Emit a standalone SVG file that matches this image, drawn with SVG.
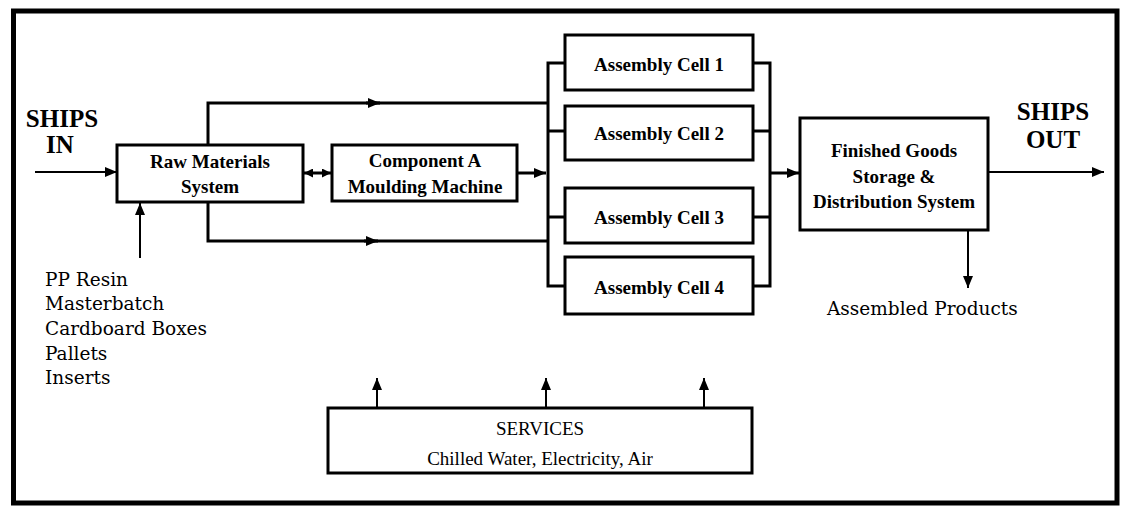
<svg xmlns="http://www.w3.org/2000/svg" width="1122" height="507" viewBox="0 0 1122 507">
<style>
.box{fill:#fff;stroke:#000;stroke-width:3}
.b{font-family:"Liberation Serif","Times New Roman",serif;font-weight:bold;font-size:19px;text-anchor:middle;fill:#000}
.h{font-family:"Liberation Serif","Times New Roman",serif;font-weight:bold;font-size:25px;text-anchor:middle;fill:#000}
.r{font-family:"Liberation Serif","Times New Roman",serif;font-size:19px;text-anchor:middle;fill:#000}
.l{font-family:"DejaVu Serif",serif;font-size:18.5px;fill:#000}
.thick{fill:none;stroke:#000;stroke-width:3}
.thin{fill:none;stroke:#000;stroke-width:2}
</style>
<defs>
<marker id="arr" markerUnits="userSpaceOnUse" markerWidth="12" markerHeight="10" refX="12" refY="5" orient="auto">
<path d="M0,0 L12,5 L0,10 Z" fill="#000"/>
</marker>
<marker id="arrs" markerUnits="userSpaceOnUse" markerWidth="9" markerHeight="9" refX="9" refY="4.5" orient="auto-start-reverse">
<path d="M0,0 L9,4.5 L0,9 Z" fill="#000"/>
</marker>
</defs>
<rect width="1122" height="507" fill="#fff"/>
<rect id="frame" x="13.5" y="11" width="1103.5" height="492" fill="none" stroke="#000" stroke-width="5"/>

<g id="connectors">
<path class="thin" d="M35,172 H117" marker-end="url(#arr)"/>
<path class="thin" d="M140,258 V203" marker-end="url(#arr)"/>
<path class="thick" d="M208,145 V103 H548"/>
<path class="thick" d="M366,103 H380" marker-end="url(#arr)"/>
<path class="thick" d="M208,202 V241 H548"/>
<path class="thick" d="M364,241 H378" marker-end="url(#arr)"/>
<path class="thick" d="M304,173 H331" marker-start="url(#arrs)" marker-end="url(#arrs)"/>
<path class="thick" d="M517,173 H546" marker-end="url(#arr)"/>
<path class="thick" d="M565,63 H548 V286 H565"/>
<path class="thick" d="M548,131 H565 M548,217 H565"/>
<path class="thick" d="M753,63 H770 V286 H753"/>
<path class="thick" d="M753,131 H770 M753,217 H770"/>
<path class="thick" d="M770,173 H799" marker-end="url(#arr)"/>
<path class="thin" d="M988,172 H1104" marker-end="url(#arr)"/>
<path class="thin" d="M968,230 V288" marker-end="url(#arr)"/>
<path class="thin" d="M377,408 V378" marker-end="url(#arr)"/>
<path class="thin" d="M546,408 V378" marker-end="url(#arr)"/>
<path class="thin" d="M704,408 V378" marker-end="url(#arr)"/>
</g>

<g id="ships-in">
<text class="h" x="62" y="127">SHIPS</text>
<text class="h" x="60" y="153">IN</text>
</g>

<g id="raw-materials">
<rect class="box" x="117" y="145" width="186" height="57"/>
<text class="b" x="210" y="168">Raw Materials</text>
<text class="b" x="210" y="193">System</text>
</g>

<g id="inputs">
<text class="l" x="45" y="286">PP Resin</text>
<text class="l" x="45" y="310">Masterbatch</text>
<text class="l" x="45" y="335">Cardboard Boxes</text>
<text class="l" x="45" y="360">Pallets</text>
<text class="l" x="45" y="384">Inserts</text>
</g>

<g id="component-a">
<rect class="box" x="332" y="145" width="185" height="56"/>
<text class="b" x="425" y="167">Component A</text>
<text class="b" x="425" y="193">Moulding Machine</text>
</g>

<g id="cell-1">
<rect class="box" x="565" y="35" width="188" height="55"/>
<text class="b" x="659" y="71">Assembly Cell 1</text>
</g>
<g id="cell-2">
<rect class="box" x="565" y="106" width="188" height="54"/>
<text class="b" x="659" y="140">Assembly Cell 2</text>
</g>
<g id="cell-3">
<rect class="box" x="565" y="188" width="188" height="55"/>
<text class="b" x="659" y="224">Assembly Cell 3</text>
</g>
<g id="cell-4">
<rect class="box" x="565" y="257" width="188" height="57"/>
<text class="b" x="659" y="294">Assembly Cell 4</text>
</g>

<g id="finished-goods">
<rect class="box" x="800" y="118" width="188" height="112"/>
<text class="b" x="894" y="157">Finished Goods</text>
<text class="b" x="894" y="183">Storage &amp;</text>
<text class="b" x="894" y="208">Distribution System</text>
</g>

<g id="ships-out">
<text class="h" x="1053" y="120">SHIPS</text>
<text class="h" x="1053" y="148">OUT</text>
</g>

<g id="assembled-products">
<text class="l" x="827" y="315">Assembled Products</text>
</g>

<g id="services">
<rect class="box" x="328" y="408" width="424" height="65"/>
<text class="r" x="540" y="435">SERVICES</text>
<text class="r" x="540" y="465">Chilled Water, Electricity, Air</text>
</g>
</svg>
